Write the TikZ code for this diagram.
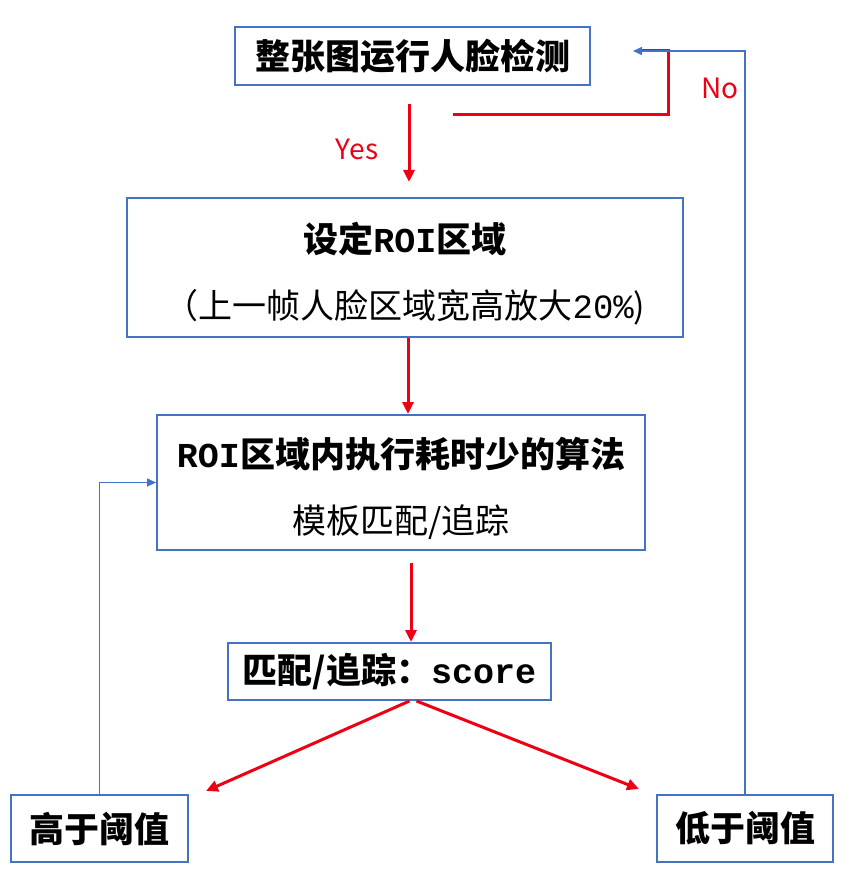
\documentclass[tikz,border=0pt]{standalone}
\usepackage{fontspec}
\setmainfont{Noto Sans CJK SC}
\newfontfamily\monofnt{Liberation Mono}
\usetikzlibrary{arrows.meta,positioning,calc}
\definecolor{boxblue}{RGB}{68,114,196}
\definecolor{arrred}{RGB}{238,0,20}
\tikzset{
  blk/.style={draw=boxblue, line width=2pt, rectangle, align=center, inner sep=0pt, font=\fontsize{35}{66}\selectfont\bfseries},
  arr/.style={-{Triangle[length=12pt,width=11pt]}, arrred, line width=3pt},
  barr/.style={-{Triangle[length=9pt,width=8pt]}, boxblue, line width=1.6pt},
  lbl/.style={font=\fontsize{28}{28}\selectfont, text=arrred},
}
\newcommand{\subline}[1]{{\mdseries\fontsize{34}{34}\selectfont #1}}
\newcommand{\topgap}{\rule{0pt}{43pt}}
\begin{document}
\begin{tikzpicture}[x=1pt, y=-1pt]
\useasboundingbox (0,0) rectangle (852,890);

\node[blk, minimum width=355pt, minimum height=58pt] (detect) at (412.5,56) {整张图运行人脸检测};
\node[blk, minimum width=556pt, minimum height=139pt, below=111pt of detect, xshift=-7.5pt] (roi)
  {\topgap 设定{\monofnt ROI}区域\\\subline{（上一帧人脸区域宽高放大{\monofnt 20\%})}};
\node[blk, minimum width=488pt, minimum height=135pt, below=76pt of roi, xshift=-4pt] (algo)
  {\topgap{\monofnt ROI}区域内执行耗时少的算法\\\subline{模板匹配/追踪}};
\node[blk, minimum width=323pt, minimum height=57pt, below=91pt of algo, xshift=-11.5pt] (score)
  {匹配/追踪：{\monofnt score}};

\node[blk, minimum width=177pt, minimum height=67pt] (high) at (99.5,828.5) {高于阈值};
\node[blk, minimum width=176pt, minimum height=67pt] (low) at (745,828.5) {低于阈值};

% yes / no branch
\draw[arr, shorten <=18pt, shorten >=15pt] ([xshift=-3.5pt]detect.south) -- ([xshift=-3.5pt]detect.south |- roi.north);
\node[lbl] (yes) at (357,149) {Yes};
\coordinate (nostart) at (453,115);
\draw[arrred, line width=3pt] (nostart) -| ([xshift=77pt,yshift=5pt]detect.east) -- ([xshift=50pt,yshift=5pt]detect.east);
\node[lbl] (no) at (720,88) {No};

\draw[arr] ([xshift=3pt]roi.south) -- ([xshift=3pt]roi.south |- algo.north);
\draw[arr, shorten <=12pt] ([xshift=10pt]algo.south) -- ([xshift=10pt]algo.south |- score.north);
\draw[arr] ([xshift=20pt]score.south) -- ([xshift=17pt,yshift=3pt]high.north east);
\draw[arr] ([xshift=27pt]score.south) -- ([xshift=-17pt,yshift=5pt]low.north west);

% feedback
\draw[barr] (high.north) |- (algo.west);
\draw[barr] (low.north) |- ([xshift=42pt,yshift=5pt]detect.east);

\end{tikzpicture}
\end{document}
